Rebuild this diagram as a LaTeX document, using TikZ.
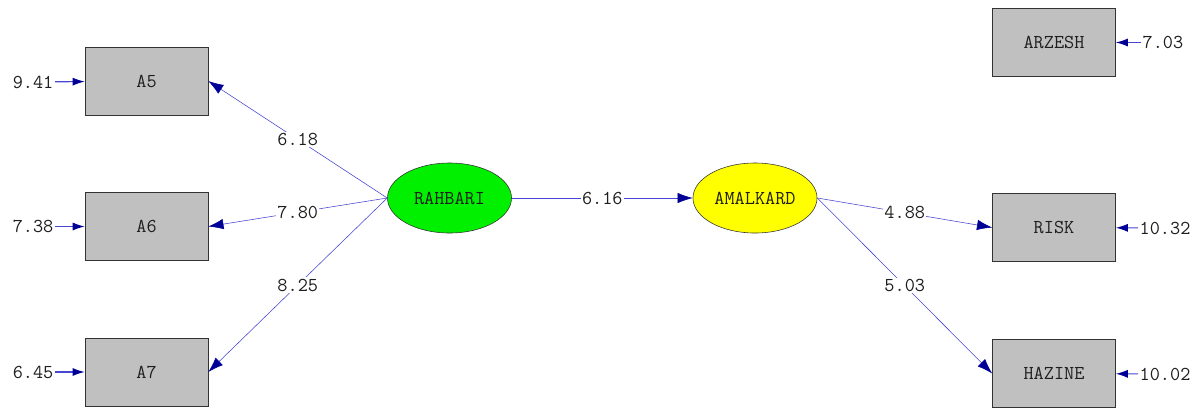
\documentclass[tikz,border=0pt]{standalone}
\usepackage{fontspec}
\usetikzlibrary{arrows.meta}
\definecolor{pathblue}{RGB}{70,70,210}
\definecolor{tipblue}{RGB}{0,0,150}
\definecolor{boxgray}{RGB}{192,192,192}
\definecolor{latgreen}{RGB}{0,240,0}
\definecolor{latyellow}{RGB}{255,255,0}
\definecolor{txtgray}{RGB}{30,30,30}
\tikzset{
  obsbox/.style={draw=black!80, fill=boxgray, minimum width=3.075cm, minimum height=1.7cm, inner sep=0pt, font=\ttfamily\fontsize{14}{15}\selectfont, text=txtgray},
  latent/.style={ellipse, draw=black!80, minimum width=3.1cm, minimum height=1.75cm, inner sep=0pt, font=\ttfamily\fontsize{14}{15}\selectfont, text=txtgray},
  coef/.style={fill=white, inner sep=1pt, font=\ttfamily\fontsize{14}{15}\selectfont, text=txtgray},
  errval/.style={inner sep=1pt, font=\ttfamily\fontsize{14}{15}\selectfont, text=txtgray},
  loading/.style={draw=pathblue, -{Latex[length=3.8mm, width=2.6mm, color=tipblue]}},
  errarrow/.style={draw=pathblue, thick, -{Latex[length=3mm, width=2mm, color=tipblue]}}
}
\usetikzlibrary{shapes.geometric}
\begin{document}
\begin{tikzpicture}[x=0.025cm, y=-0.025cm]
  \useasboundingbox (0,0) rectangle (1202,410);

  % observed variables
  \node[obsbox] (a5) at (146.5, 81) {A5};
  \node[obsbox] (a6) at (146.5, 226.5) {A6};
  \node[obsbox] (a7) at (146.5, 372) {A7};
  \node[obsbox] (arzesh) at (1054, 42.5) {ARZESH};
  \node[obsbox] (risk) at (1054, 227.5) {RISK};
  \node[obsbox] (hazine) at (1054, 373.5) {HAZINE};

  % latent variables
  \node[latent, fill=latgreen] (rahbari) at (449.5, 198) {RAHBARI};
  \node[latent, fill=latyellow] (amalkard) at (755, 198) {AMALKARD};

  % loadings
  \draw[loading] (rahbari.west) -- node[coef] {6.18} (a5.east);
  \draw[loading] (rahbari.west) -- node[coef] {7.80} (a6.east);
  \draw[loading] (rahbari.west) -- node[coef] {8.25} (a7.east);
  \draw[loading] (rahbari.east) -- node[coef] {6.16} (amalkard.west);
  \draw[loading] (amalkard.east) -- node[coef] {4.88} (risk.west);
  \draw[loading] (amalkard.east) -- node[coef] {5.03} (hazine.west);

  % error terms
  \node[errval, anchor=east] (e5) at (55, 82) {9.41};
  \node[errval, anchor=east] (e6) at (55, 226.5) {7.38};
  \node[errval, anchor=east] (e7) at (55, 372) {6.45};
  \node[errval, anchor=west] (earzesh) at (1141, 42.5) {7.03};
  \node[errval, anchor=west] (erisk) at (1138, 228) {10.32};
  \node[errval, anchor=west] (ehazine) at (1138, 374) {10.02};
  \draw[errarrow] (e5) -- (a5);
  \draw[errarrow] (e6) -- (a6);
  \draw[errarrow] (e7) -- (a7);
  \draw[errarrow] (earzesh) -- (arzesh);
  \draw[errarrow] (erisk) -- (risk);
  \draw[errarrow] (ehazine) -- (hazine);
\end{tikzpicture}
\end{document}
